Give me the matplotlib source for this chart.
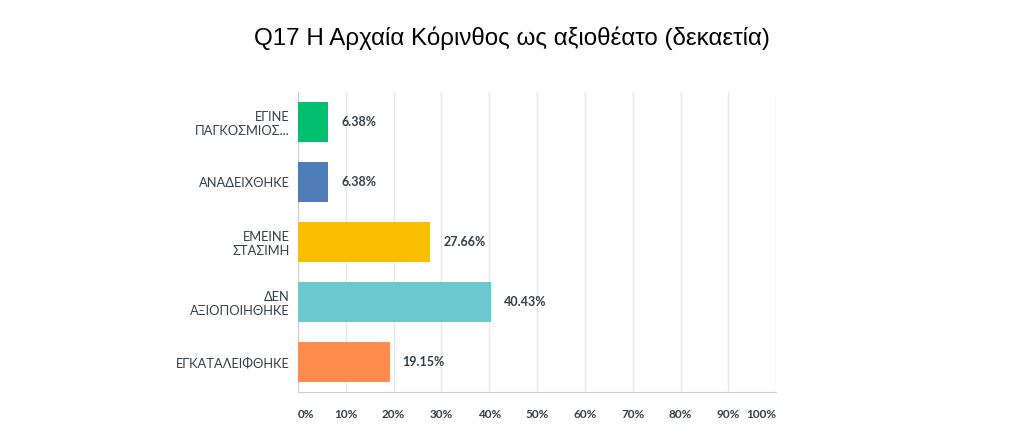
import matplotlib
matplotlib.use("Agg")
import matplotlib.pyplot as plt

plt.rcParams['font.family'] = ['Lato', 'DejaVu Sans']

# Δεδομένα
categories = ["ΕΓΙΝΕ\nΠΑΓΚΟΣΜΙΟΣ...", "ΑΝΑΔΕΙΧΘΗΚΕ", "ΕΜΕΙΝΕ\nΣΤΑΣΙΜΗ",
              "ΔΕΝ\nΑΞΙΟΠΟΙΗΘΗΚΕ", "ΕΓΚΑΤΑΛΕΙΦΘΗΚΕ"]
values = [6.38, 6.38, 27.66, 40.43, 19.15]
colors = ["#00BF6F", "#507CB6", "#F9BE00", "#6BC8CD", "#FF8B4F"]
ticks = [0, 10, 20, 30, 40, 50, 60, 70, 80, 90, 100]

fig = plt.figure(figsize=(10.24, 4.45), dpi=100)
ax = fig.add_axes([0.291, 0.119, 0.467, 0.674])

y = list(range(len(categories)))
ax.barh(y, values, height=0.667, color=colors, zorder=3)
for yi, v in zip(y, values):
    ax.text(v + 2.7, yi, f"{v:.2f}%", va='center', ha='left',
            fontsize=9, fontweight='bold', color='#333e48')

ax.set_ylim(len(categories) - 0.5, -0.5)
ax.set_xlim(0, 100)
ax.set_yticks(y)
ax.set_yticklabels(categories, fontsize=9.3, color='#333e48')
ax.set_xticks(ticks)
ax.set_xticklabels([f"{t}%" for t in ticks], fontsize=8.5,
                   fontweight='bold', color='#333e48')
labels = ax.get_xticklabels()
labels[0].set_ha('left')
labels[-1].set_ha('right')
ax.tick_params(axis='both', length=0)
ax.tick_params(axis='x', pad=12)
ax.tick_params(axis='y', pad=6)
ax.grid(axis='x', color='#e8e8e8', linewidth=1, zorder=0)
for s in ['top', 'right']:
    ax.spines[s].set_visible(False)
for s in ['left', 'bottom']:
    ax.spines[s].set_color('#cccccc')

fig.text(0.5, 0.915, "Q17 Η Αρχαία Κόρινθος ως αξιοθέατο (δεκαετία)",
         ha='center', va='center', fontsize=17.4, color='#000000',
         family=['Liberation Sans', 'DejaVu Sans'])

fig.savefig("out.png", dpi=100)
